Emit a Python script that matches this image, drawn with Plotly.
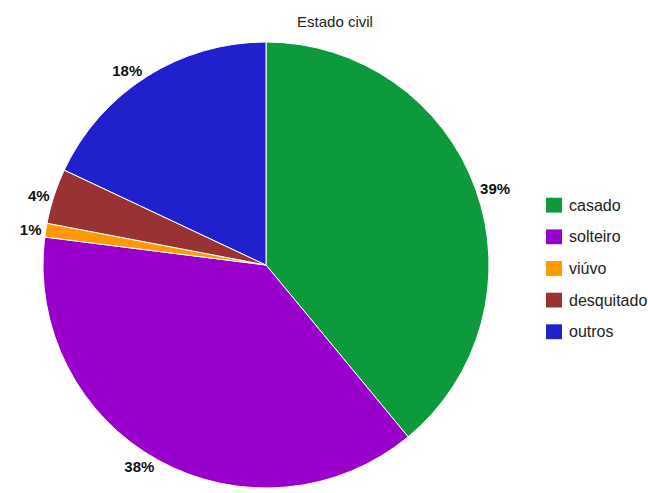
import plotly.graph_objects as go

# Marital status distribution
categories = ["casado", "solteiro", "viúvo", "desquitado", "outros"]
shares = [39, 38, 1, 4, 18]
colors = ["#0c9a3c", "#9a00cc", "#ff9900", "#993333", "#2020cc"]

W, H = 648, 493
TOP = 42
FONT = "Liberation Sans, Arial, sans-serif"

fig = go.Figure(
    go.Pie(
        labels=categories,
        values=shares,
        marker=dict(colors=colors, line=dict(color="white", width=1)),
        sort=False,
        direction="clockwise",
        rotation=0,
        textposition="outside",
        texttemplate="<b>%{percent:.0%}</b>",
        textfont=dict(family=FONT, size=15, color="#111111"),
        showlegend=False,
        domain=dict(x=[36 / W, 496 / W], y=[0, 1]),
    )
)

# Legend drawn beside the pie, one row per category
plot_h = H - TOP


def py(y_px):
    return (H - y_px) / plot_h


for i, (name, col) in enumerate(zip(categories, colors)):
    yc = 207 + 32 * i
    fig.add_shape(
        type="rect", xref="paper", yref="paper",
        x0=546 / W, x1=562 / W, y0=py(yc + 7.5), y1=py(yc - 7.5),
        fillcolor=col, line=dict(width=0),
    )
    fig.add_annotation(
        x=567 / W, y=py(yc), xref="paper", yref="paper",
        text=name, showarrow=False, xanchor="left", yanchor="middle",
        font=dict(family=FONT, size=16, color="#222222"),
    )

fig.update_layout(
    width=W, height=H,
    margin=dict(l=0, r=0, t=TOP, b=0),
    paper_bgcolor="white",
    plot_bgcolor="white",
    title=dict(
        text="Estado civil", x=335 / W, xanchor="center",
        y=1 - 22 / H, yanchor="middle", yref="container",
        font=dict(family=FONT, size=15, color="#222222"),
    ),
)

fig.write_html("out.html")
